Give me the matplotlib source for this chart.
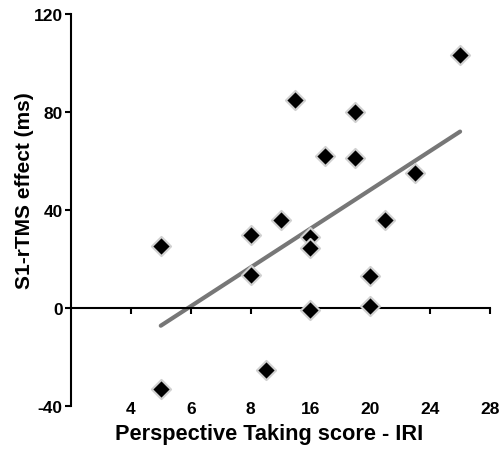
import numpy as np
import matplotlib
matplotlib.use('Agg')
import matplotlib.pyplot as plt

plt.rcParams['font.family'] = ['Liberation Sans', 'DejaVu Sans']
plt.rcParams['font.weight'] = 'bold'
plt.rcParams['axes.unicode_minus'] = False

# Perspective Taking score (IRI) vs S1-rTMS effect (ms)
iri_score = [6, 6, 12, 12, 13, 14, 15, 16, 16, 16, 17, 19, 19, 20, 20, 21, 23, 26]
rtms_effect = [25, -33, 29.5, 13.5, -25.5, 35.6, 84.7, 29, 24.4, -1, 62, 80, 61,
               13, 0.5, 36, 55, 103]

x_ticks = [4, 8, 12, 16, 20, 24, 28]
x_tick_labels = ["4", "6", "8", "16", "20", "24", "28"]
y_ticks = [-40, 0, 40, 80, 120]

fig = plt.figure(figsize=(4.99, 4.52), dpi=100)
ax = fig.add_axes([0.1423, 0.1002, 0.8397, 0.8673])

# regression line
slope, intercept = np.polyfit(iri_score, rtms_effect, 1)
xs = np.array([min(iri_score), max(iri_score)])
ax.plot(xs, slope * xs + intercept, color="#777777", linewidth=3.0,
        solid_capstyle='round', zorder=2)

ax.scatter(iri_score, rtms_effect, marker='D', s=95, color='black',
           edgecolors='#d0d0d0', linewidths=1.5, zorder=3)

ax.set_xlim(0, 28)
ax.set_ylim(-40, 120)

ax.spines['top'].set_visible(False)
ax.spines['right'].set_visible(False)
ax.spines['bottom'].set_position(('data', 0))
for s in ('left', 'bottom'):
    ax.spines[s].set_linewidth(1.5)

ax.set_yticks(y_ticks)
ax.set_xticks(x_ticks)
ax.set_xticklabels(x_tick_labels)
ax.tick_params(axis='both', direction='out', length=4, width=1.5,
               labelsize=12.5)
ax.tick_params(axis='x', pad=63)
ax.tick_params(axis='y', pad=2)

ax.set_xlabel("Perspective Taking score - IRI", fontsize=15.7,
              fontweight='bold', labelpad=5, x=0.473)
ax.set_ylabel("S1-rTMS effect (ms)", fontsize=15, fontweight='bold',
              labelpad=0, y=0.55)

fig.savefig("out.png", dpi=100)
